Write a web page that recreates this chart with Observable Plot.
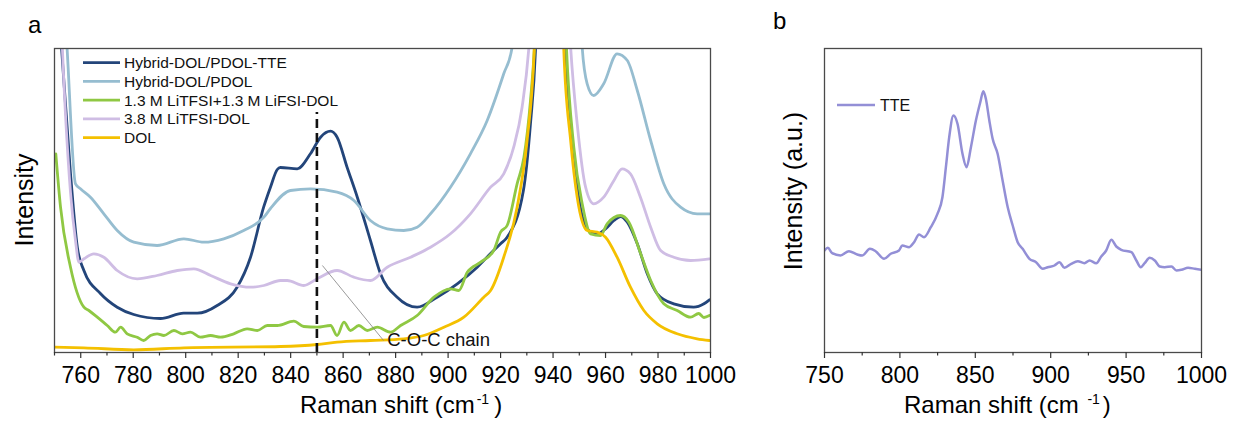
<!DOCTYPE html>
<html>
<head>
<meta charset="utf-8">
<script src="https://cdn.jsdelivr.net/npm/d3@7"></script>
<script src="https://cdn.jsdelivr.net/npm/@observablehq/plot@0.6"></script>
<style>
  body { margin: 0; background: #fff; }
  #fig { position: relative; width: 1233px; height: 423px; background: #fff; }
  #fig svg { position: absolute; top: 0; overflow: visible; }
</style>
</head>
<body>
<div id="fig"></div>
<script>
const fontFam = '"Liberation Sans", Arial, Helvetica, sans-serif';

// ---------- Panel a data ----------
const seriesNames = ["Hybrid-DOL/PDOL-TTE", "Hybrid-DOL/PDOL", "1.3 M LiTFSI+1.3 M LiFSI-DOL", "3.8 M LiTFSI-DOL", "DOL"];
const seriesColors = ["#23457a", "#96bdd0", "#8fc843", "#cfbde4", "#f4c000"];

const tteX = [751.5, 752.7, 756.1, 758.7, 761.2, 767.5, 773.9, 780.2, 790.4, 799.2, 804.4, 812.0, 819.6, 824.7, 829.7, 832.3, 834.9, 836.1, 842.5, 847.6, 851.4, 855.2, 857.7, 861.5, 865.4, 870.4, 874.2, 880.6, 888.2, 895.8, 903.5, 911.1, 916.2, 920.0, 922.5, 928.7, 931.4, 933.3, 936.5, 939.0, 941.5, 944.8, 947.3, 950.4, 953.6, 956.8, 960.0, 963.2, 965.7, 968.3, 972.1, 975.9, 979.7, 986.0, 993.6, 997.5, 999.6];
const tteY = [346, 304, 179, 105.3, 82, 59, 45.3, 38, 34, 39.3, 39.3, 47, 65.3, 95.3, 145.3, 165.3, 183, 185, 183.7, 199, 215.3, 221.3, 215.3, 185.3, 155.3, 112, 79, 55.3, 45.3, 55.3, 68.7, 85.3, 99, 108.7, 115.3, 162, 229, 302, 650, 800, 650, 302, 212, 145.3, 122, 118.7, 123.7, 132, 136, 130.3, 108.7, 78.7, 58.7, 48.7, 45.3, 48.7, 52.7];

const pdolX = [753.8, 754.8, 758.0, 759.9, 763.7, 768.8, 773.9, 780.2, 789.1, 799.3, 806.9, 814.5, 822.1, 829.8, 832.3, 839.9, 847.6, 857.7, 864.1, 870.4, 876.8, 883.1, 888.2, 893.3, 900.9, 908.5, 914.9, 921.2, 924.4, 927.6, 939.0, 948.6, 951.1, 953.0, 955.5, 959.3, 964.4, 968.3, 972.1, 977.2, 982.2, 988.6, 994.9, 999.6];
const pdolY = [348, 304, 168.7, 163.7, 155.3, 138.7, 122, 110.3, 107, 113.7, 110.3, 113.7, 122, 135.3, 144, 162, 163.7, 160.3, 152, 132, 123.7, 122, 125.3, 138.7, 165.3, 198.7, 232, 278.7, 305.3, 500, 900, 500, 305.3, 268.7, 257, 268.7, 298.7, 292, 262, 212, 168.7, 145.3, 138.7, 138.7];

const mixX = [750.5, 752.3, 756.1, 761.2, 763.1, 766.3, 770.1, 773.2, 775.2, 777.7, 781.5, 784.0, 786.6, 789.1, 791.7, 795.5, 798.7, 801.8, 805.6, 809.5, 813.3, 818.3, 823.4, 827.3, 831.1, 834.9, 841.2, 845.0, 850.1, 855.2, 857.7, 860.3, 862.8, 866.0, 869.2, 873.0, 878.1, 881.9, 888.2, 894.6, 900.9, 904.1, 907.3, 912.4, 917.4, 920.0, 922.5, 926.3, 928.9, 931.4, 932.9, 936.5, 939.0, 941.5, 945.1, 947.9, 951.1, 954.3, 958.1, 960.6, 965.7, 968.9, 973.4, 977.2, 982.2, 987.3, 992.4, 995.5, 997.5, 999.6];
const mixY = [198.7, 145.3, 85.3, 45.3, 42, 35.3, 27, 20.3, 25.3, 18.7, 15.3, 12, 17, 18.7, 17, 22, 18.7, 20.3, 15.3, 17, 15.3, 18.7, 23.7, 22, 27, 27, 31.3, 26, 25.3, 27, 17, 30.3, 22, 27, 22, 25.3, 20.3, 27, 37, 55.3, 63.7, 62, 80.3, 90.3, 102, 120.3, 127, 168.7, 195.3, 252, 305.3, 650, 800, 650, 305.3, 205.3, 148.7, 118.7, 117, 128.7, 137, 130.3, 98.7, 72, 48.7, 42, 35.3, 39, 35, 37];

const litfsiX = [752.3, 753.0, 756.1, 758.0, 759.3, 761.2, 765.0, 768.8, 773.9, 781.5, 789.1, 796.8, 803.1, 809.5, 817.1, 824.7, 829.8, 836.1, 838.7, 845.0, 850.1, 857.7, 864.1, 870.4, 876.8, 885.7, 893.3, 900.9, 908.5, 916.2, 921.2, 925.0, 928.2, 930.8, 936.5, 939.0, 941.5, 946.7, 949.2, 952.4, 955.5, 959.3, 963.2, 966.3, 969.5, 973.3, 977.2, 981.0, 986.0, 992.4, 999.6];
const litfsiY = [350, 304, 160, 112, 90.3, 93.7, 98.7, 95.3, 82, 73.7, 77, 82, 83.7, 77, 68.7, 65.3, 67, 72, 72, 67, 73.7, 82, 75.3, 72, 85.3, 95.3, 105.3, 118.7, 138.7, 165.3, 178.7, 205.3, 245.3, 305.3, 650, 800, 650, 305.3, 228.7, 165.3, 148.7, 155.3, 172, 183.7, 178.7, 155.3, 125.3, 102, 95.3, 92, 93.7];

const dolX = [750.0, 761.2, 780.2, 799.3, 836.1, 850.1, 857.7, 870.4, 883.1, 890.7, 898.4, 906.0, 913.6, 916.2, 921.2, 926.3, 930.1, 932.7, 936.5, 939.0, 941.5, 944.1, 946.7, 949.2, 953.0, 956.8, 960.0, 964.4, 969.5, 974.6, 979.7, 987.3, 994.9, 999.6];
const dolY = [5.3, 4.7, 2.7, 4.7, 6, 8, 10.3, 12, 13.7, 17, 25.3, 35.3, 55.3, 62, 95.3, 145.3, 212, 295.3, 650, 800, 650, 302, 212, 155.3, 122, 120.3, 115.3, 95.3, 65.3, 42, 28.7, 18.7, 13.7, 12];

const majorTicksA = [760, 780, 800, 820, 840, 860, 880, 900, 920, 940, 960, 980, 1000];
const minorTicksA = [750, 770, 790, 810, 830, 850, 870, 890, 910, 930, 950, 970, 990];

const markerX = [850];
const markerTop = 240;
const annotationA = [{x1: 852.1, y1: 87, x2: 875.4, y2: 12, tx: 876.8, ty: 12, label: "C-O-C chain"}];

// ---------- Panel b data ----------
const tteOnlyName = "TTE";
const tteOnlyColor = "#938fd6";
const tteOnlyX = [750.0, 752.2, 755.1, 760.6, 766.2, 771.7, 775.0, 780.1, 783.9, 789.5, 793.9, 799.4, 801.6, 806.1, 809.4, 812.7, 816.0, 820.5, 824.9, 828.2, 830.5, 832.7, 835.5, 838.2, 841.5, 844.2, 847.1, 850.4, 853.3, 855.3, 857.0, 859.3, 861.5, 864.8, 868.1, 871.5, 874.8, 878.1, 881.4, 885.9, 890.3, 894.7, 898.0, 902.5, 905.8, 909.1, 913.6, 918.0, 922.4, 925.8, 930.2, 933.5, 936.8, 940.2, 943.5, 946.8, 953.5, 956.8, 959.7, 962.3, 965.6, 969.0, 972.3, 975.6, 980.1, 983.4, 986.7, 991.1, 995.6, 1000.0];
const tteOnlyY = [102, 104.7, 99.3, 97, 101.3, 98, 97, 103.7, 101.3, 93.7, 98.7, 102, 107, 105.3, 110.3, 118, 115.3, 125.3, 138.7, 155.3, 185.3, 215.3, 237, 228.7, 198.7, 185.3, 205.3, 232, 250.3, 261.3, 253.7, 232, 213.7, 198.7, 172, 145.3, 127, 110.3, 103.7, 93.7, 90.3, 83.7, 85.3, 87, 90.3, 84.7, 88.7, 91.3, 89.3, 92, 89.3, 96, 102, 112.7, 106, 102.7, 100.3, 92, 85.3, 89.3, 94.7, 92, 86, 85.3, 86, 82, 82.7, 84.7, 83.7, 82.7];

const majorTicksB = [750, 800, 850, 900, 950, 1000];
const minorTicksB = [775, 825, 875, 925, 975];

// ---------- build tables ----------
const seriesA = [
  {name: seriesNames[0], xs: tteX, ys: tteY},
  {name: seriesNames[1], xs: pdolX, ys: pdolY},
  {name: seriesNames[2], xs: mixX, ys: mixY},
  {name: seriesNames[3], xs: litfsiX, ys: litfsiY},
  {name: seriesNames[4], xs: dolX, ys: dolY}
];
const rowsA = seriesA.flatMap(s => s.xs.map((x, j) => ({series: s.name, x, y: s.ys[j]})));
const rowsB = tteOnlyX.map((x, j) => ({series: tteOnlyName, x, y: tteOnlyY[j]}));

const fig = document.getElementById("fig");

// ---------- Panel a ----------
const plotA = Plot.plot({
  width: 740, height: 423,
  marginLeft: 54, marginRight: 30, marginTop: 48, marginBottom: 71,
  x: {domain: [750, 1000], label: null},
  y: {domain: [0, 304], axis: null, label: null},
  color: {domain: seriesNames, range: seriesColors},
  style: {fontFamily: fontFam, color: "#000", background: "transparent", overflow: "visible"},
  marks: [
    Plot.line(rowsA, {x: "x", y: "y", z: "series", stroke: "series", strokeWidth: 2.8, curve: "monotone-x", clip: true}),
    Plot.ruleX(markerX, {x: d => d, y1: 0, y2: markerTop, stroke: "#111", strokeWidth: 2.6, strokeDasharray: "9,5"}),
    Plot.link(annotationA, {x1: "x1", y1: "y1", x2: "x2", y2: "y2", stroke: "#808080", strokeWidth: 0.8}),
    Plot.text(annotationA, {x: "tx", y: "ty", text: "label", textAnchor: "start", lineAnchor: "middle", fontSize: 18.5, fill: "#111"}),
    Plot.frame({stroke: "#4a4a4a", strokeWidth: 1.3}),
    Plot.axisX(minorTicksA, {tickSize: 3.5, tickFormat: () => "", stroke: "#333", strokeWidth: 1.2, label: null}),
    Plot.axisX(majorTicksA, {tickSize: 6, tickPadding: 8, fontSize: 23, stroke: "#333", strokeWidth: 1.2, fill: "#000", label: null, tickFormat: d => String(d)})
  ]
});
plotA.style.left = "0px";
fig.appendChild(plotA);

const sa = d3.select(plotA);
const overA = sa.append("g").attr("font-family", fontFam).attr("text-anchor", "start").attr("fill", "#000");
// legend
seriesNames.forEach((name, i) => {
  const y = 62.7 + i * 18.75;
  overA.append("line").attr("x1", 83).attr("x2", 120).attr("y1", y).attr("y2", y)
    .attr("stroke", seriesColors[i]).attr("stroke-width", 2.8);
  overA.append("text").attr("x", 124).attr("y", y).attr("dy", "0.35em")
    .attr("font-size", 15.5).attr("fill", "#111").text(name);
});
// axis titles
const xtA = overA.append("text").attr("x", 300).attr("y", 413).attr("font-size", 24);
xtA.append("tspan").text("Raman shift (cm");
xtA.append("tspan").attr("font-size", 14).attr("dx", 2).attr("dy", -9.5).text("-1");
xtA.append("tspan").attr("dx", 5).attr("dy", 9.5).text(")");
overA.append("text").attr("transform", "translate(33,200) rotate(-90)").attr("text-anchor", "middle")
  .attr("font-size", 25).text("Intensity");
overA.append("text").attr("x", 28).attr("y", 33).attr("font-size", 24).text("a");

// ---------- Panel b ----------
const plotB = Plot.plot({
  width: 493, height: 423,
  marginLeft: 84, marginRight: 32, marginTop: 48, marginBottom: 71,
  x: {domain: [750, 1000], label: null},
  y: {domain: [0, 304], axis: null, label: null},
  style: {fontFamily: fontFam, color: "#000", background: "transparent", overflow: "visible"},
  marks: [
    Plot.line(rowsB, {x: "x", y: "y", stroke: tteOnlyColor, strokeWidth: 2.5, curve: "monotone-x", clip: true}),
    Plot.frame({stroke: "#4a4a4a", strokeWidth: 1.3}),
    Plot.axisX(minorTicksB, {tickSize: 3.5, tickFormat: () => "", stroke: "#333", strokeWidth: 1.2, label: null}),
    Plot.axisX(majorTicksB, {tickSize: 6, tickPadding: 8, fontSize: 23, stroke: "#333", strokeWidth: 1.2, fill: "#000", label: null, tickFormat: d => String(d)})
  ]
});
plotB.style.left = "740px";
fig.appendChild(plotB);

const sb = d3.select(plotB);
const overB = sb.append("g").attr("font-family", fontFam).attr("text-anchor", "start").attr("fill", "#000");
overB.append("line").attr("x1", 97).attr("x2", 135).attr("y1", 105).attr("y2", 105)
  .attr("stroke", tteOnlyColor).attr("stroke-width", 2.5);
overB.append("text").attr("x", 140).attr("y", 105).attr("dy", "0.35em")
  .attr("font-size", 16).attr("fill", "#111").text(tteOnlyName);
const xtB = overB.append("text").attr("x", 164).attr("y", 413).attr("font-size", 24);
xtB.append("tspan").text("Raman shift (cm ");
xtB.append("tspan").attr("font-size", 14).attr("dx", 2).attr("dy", -9.5).text("-1");
xtB.append("tspan").attr("dx", 3).attr("dy", 9.5).text(")");
overB.append("text").attr("transform", "translate(61.5,191) rotate(-90)").attr("text-anchor", "middle")
  .attr("font-size", 25).text("Intensity (a.u.)");
overB.append("text").attr("x", 33).attr("y", 29).attr("font-size", 24).text("b");
</script>
</body>
</html>
